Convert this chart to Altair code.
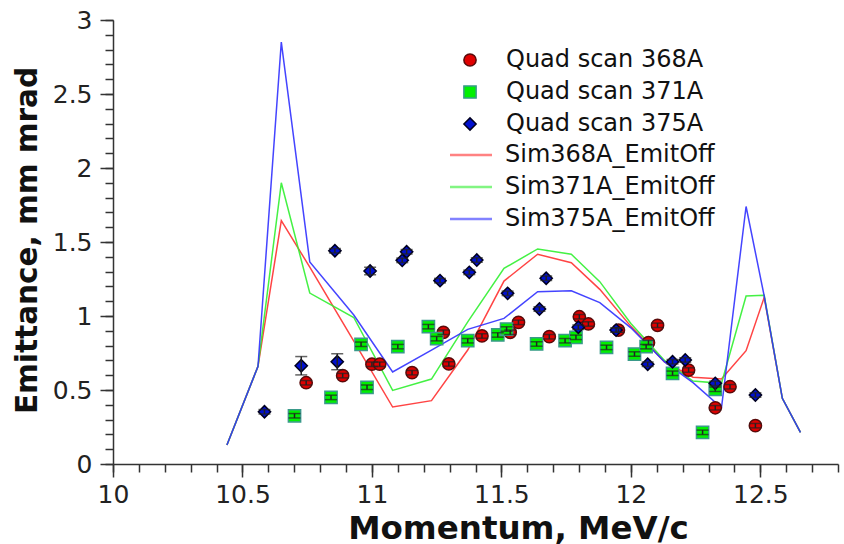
import altair as alt
import pandas as pd

# Quad-scan emittance measurements: momentum (MeV/c), emittance (mm mrad), error
q368_p = [10.746, 10.887, 11.0, 11.03, 11.155, 11.276, 11.297, 11.425, 11.534, 11.566,
          11.685, 11.801, 11.836, 11.952, 12.068, 12.103, 12.223, 12.326, 12.383, 12.481]
q368_e = [0.549, 0.597, 0.674, 0.674, 0.617, 0.89, 0.676, 0.865, 0.89, 0.957,
          0.86, 0.995, 0.946, 0.905, 0.82, 0.937, 0.635, 0.38, 0.522, 0.259]
q368_err = [0.015] * 20

q371_p = [10.701, 10.842, 10.958, 10.981, 11.1, 11.218, 11.25, 11.37, 11.486, 11.52,
          11.636, 11.746, 11.788, 11.906, 12.014, 12.059, 12.161, 12.277, 12.326]
q371_e = [0.326, 0.45, 0.809, 0.518, 0.793, 0.928, 0.847, 0.833, 0.872, 0.912,
          0.811, 0.833, 0.856, 0.788, 0.743, 0.793, 0.613, 0.214, 0.505]
q371_err = [0.015] * 19

q375_p = [10.585, 10.727, 10.857, 10.866, 10.993, 11.117, 11.134, 11.263, 11.376, 11.405,
          11.524, 11.647, 11.673, 11.797, 11.943, 12.065, 12.161, 12.21, 12.326, 12.481]
q375_e = [0.353, 0.664, 1.441, 0.691, 1.304, 1.376, 1.434, 1.239, 1.295, 1.378,
          1.153, 1.047, 1.255, 0.924, 0.905, 0.674, 0.691, 0.703, 0.545, 0.466]
q375_err = [0.015, 0.062, 0.015, 0.054, 0.025, 0.015, 0.015, 0.015, 0.015, 0.015,
            0.015, 0.015, 0.015, 0.015, 0.015, 0.015, 0.015, 0.015, 0.015, 0.015]

# Simulated emittance (emittance term off) on the simulation momentum grid
sim_p = [10.44, 10.56, 10.65, 10.76, 10.93, 11.08, 11.23, 11.37, 11.51, 11.64,
         11.77, 11.88, 12.0, 12.13, 12.24, 12.35, 12.445, 12.515, 12.585, 12.655]
sim368 = [0.128, 0.66, 1.644, 1.33, 0.83, 0.385, 0.428, 0.77, 1.236, 1.417,
          1.36, 1.18, 0.93, 0.69, 0.586, 0.574, 0.766, 1.126, 0.444, 0.214]
sim371 = [0.128, 0.66, 1.90, 1.155, 0.99, 0.497, 0.574, 0.96, 1.322, 1.453,
          1.417, 1.232, 0.95, 0.70, 0.56, 0.545, 1.135, 1.14, 0.444, 0.214]
sim375 = [0.128, 0.66, 2.851, 1.365, 1.007, 0.622, 0.77, 0.91, 0.984, 1.164,
          1.171, 1.09, 0.92, 0.69, 0.55, 0.38, 1.74, 1.135, 0.444, 0.214]

scan_names = ["Quad scan 368A", "Quad scan 371A", "Quad scan 375A"]
sim_names = ["Sim368A_EmitOff", "Sim371A_EmitOff", "Sim375A_EmitOff"]

rows = []
for name, ps, es, errs in zip(scan_names, [q368_p, q371_p, q375_p],
                              [q368_e, q371_e, q375_e], [q368_err, q371_err, q375_err]):
    for p, e, d in zip(ps, es, errs):
        rows.append({"p": p, "e": e, "lo": e - d, "hi": e + d, "series": name})
scans = pd.DataFrame(rows)

sim_rows = []
for name, es in zip(sim_names, [sim368, sim371, sim375]):
    for i, (p, e) in enumerate(zip(sim_p, es)):
        sim_rows.append({"p": p, "e": e, "order": i, "sim": name})
sims = pd.DataFrame(sim_rows)

FONT = "DejaVu Sans"

x_major = [10, 10.5, 11, 11.5, 12, 12.5]
y_major = [0, 0.5, 1, 1.5, 2, 2.5, 3]
x_minor = [round(10 + 0.1 * i, 1) for i in range(29)]
y_minor = [round(0.1 * i, 1) for i in range(31)]

x_scale = alt.Scale(domain=[10, 12.8], nice=False, zero=False)
y_scale = alt.Scale(domain=[0, 3], nice=False, zero=False)

# Major axes: labelled ticks every 0.5
x_axis = alt.Axis(
    values=x_major, format="~g", tickSize=13, labelOverlap=False, labelFlush=False,
    title="Momentum, MeV/c", titleX=405, titleY=48, titleFontSize=32.5,
    grid=False, orient="bottom")
y_axis = alt.Axis(
    values=y_major, format="~g", tickSize=13, labelOverlap=False, labelFlush=False,
    title="Emittance, mm mrad", titleX=-86, titleY=220, titleBaseline="middle",
    titleFontSize=29.5, grid=False, orient="left")

X = alt.X("p:Q", scale=x_scale, axis=x_axis)
Y = alt.Y("e:Q", scale=y_scale, axis=y_axis)
Ylo = alt.Y("lo:Q", scale=y_scale, axis=y_axis)
Yhi = alt.Y("hi:Q", scale=y_scale, axis=y_axis)

# Minor axes: unlabelled ticks every 0.1
Xm = alt.X("p:Q", scale=x_scale, axis=alt.Axis(
    values=x_minor, tickSize=8, labels=False, domain=False, title=None, grid=False,
    orient="bottom"))
Ym = alt.Y("e:Q", scale=y_scale, axis=alt.Axis(
    values=y_minor, tickSize=8, labels=False, domain=False, title=None, grid=False,
    orient="left"))

minor = alt.Chart(sims).mark_point(opacity=0).encode(x=Xm, y=Ym)

lines = alt.Chart(sims).mark_line(strokeWidth=1.5, opacity=0.9).encode(
    x=X,
    y=Y,
    order="order:Q",
    color=alt.Color(
        "sim:N",
        scale=alt.Scale(domain=sim_names, range=["#ff3030", "#30f030", "#3030ff"]),
        legend=alt.Legend(
            title=None, orient="none", legendX=346, legendY=123,
            symbolType="M-3,0H3", symbolSize=196, symbolStrokeWidth=2.5,
            symbolOpacity=0.6, labelLimit=0,
            labelFont=FONT, labelFontSize=24, labelColor="#111",
            labelOffset=22, rowPadding=8, padding=0,
        ),
    ),
)

legend_pts = alt.Legend(
    title=None, orient="none", legendX=345, legendY=28, labelLimit=0,
    labelFont=FONT, labelFontSize=24, labelColor="#111",
    labelOffset=24, rowPadding=8, padding=0, symbolSize=150,
    symbolStrokeWidth=1.5,
)

points = alt.Chart(scans).mark_point(filled=True, size=150, opacity=1, strokeWidth=1.5).encode(
    x=X,
    y=Y,
    fill=alt.Fill("series:N", scale=alt.Scale(domain=scan_names, range=["#e00000", "#00f000", "#0010d0"]),
                  legend=legend_pts),
    stroke=alt.Stroke("series:N", scale=alt.Scale(domain=scan_names, range=["#5a0a0a", "#3a9a8a", "#000020"]),
                      legend=legend_pts),
    shape=alt.Shape("series:N", scale=alt.Scale(domain=scan_names, range=["circle", "square", "diamond"]),
                    legend=legend_pts),
)

bars = alt.Chart(scans).mark_rule(color="#222", strokeWidth=1.5).encode(
    x=X, y=Ylo, y2="hi:Q"
)
caps_lo = alt.Chart(scans).mark_tick(color="#222", orient="horizontal", size=12, thickness=1.5).encode(
    x=X, y=Ylo
)
caps_hi = alt.Chart(scans).mark_tick(color="#222", orient="horizontal", size=12, thickness=1.5).encode(
    x=X, y=Yhi
)

main = alt.layer(lines, points, bars, caps_lo, caps_hi)

chart = alt.layer(minor, main).resolve_axis(x="independent", y="independent").properties(
    width=725, height=444,
    autosize=alt.AutoSizeParams(type="none"),
    padding={"left": 113, "top": 20, "right": 6, "bottom": 80},
).configure_view(stroke=None).configure_axis(
    domainColor="#333", domainWidth=1.5, tickColor="#333", tickWidth=1.5,
    labelFont=FONT, labelFontSize=25, labelColor="#222",
    titleFont=FONT, titleFontWeight="bold", titleColor="#111",
).configure_axisX(labelPadding=5).configure_axisY(labelPadding=8)

chart.save("out.html", embed_options={"renderer": "svg", "actions": False})
